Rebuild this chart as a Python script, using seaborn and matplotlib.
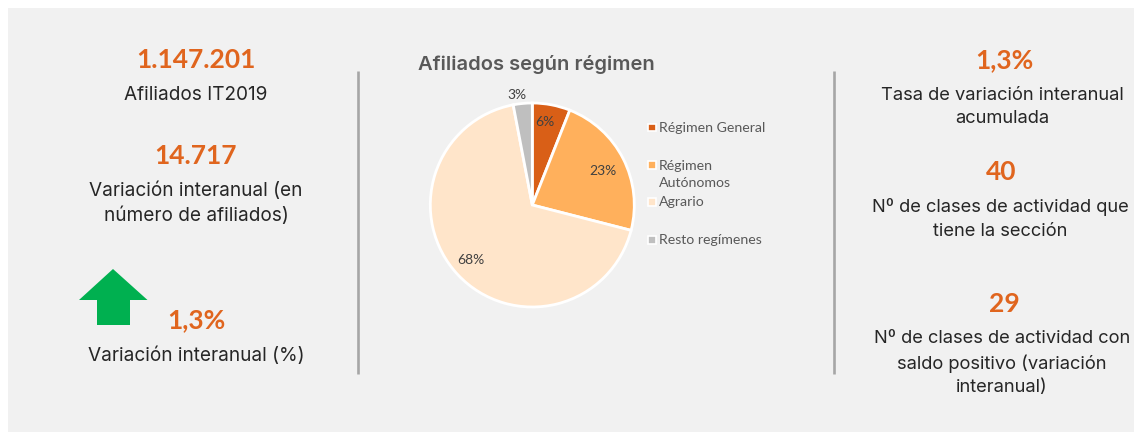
import matplotlib
matplotlib.use("Agg")
import matplotlib.pyplot as plt
from matplotlib.patches import Rectangle, Polygon
import seaborn as sns

# Data
regimes = ["Régimen General", "Régimen\nAutónomos", "Agrario", "Resto regímenes"]
shares = [6, 23, 68, 3]
palette_hex = ["#D95F17", "#FFB05C", "#FFE5CA", "#BFBFBF"]
left_numbers = ["1.147.201", "14.717", "1,3%"]
left_labels = ["Afiliados IT2019", "Variación interanual (en\nnúmero de afiliados)", "Variación interanual (%)"]
right_numbers = ["1,3%", "40", "29"]
right_labels = ["Tasa de variación interanual\nacumulada",
                "Nº de clases de actividad que\ntiene la sección",
                "Nº de clases de actividad con\nsaldo positivo (variación\ninteranual)"]

sns.set_theme(style="white")
colors = sns.color_palette(palette_hex)

W, H = 1134, 432
BG = "#F1F1F1"
NUM = "#E0651E"
TXT = "#262626"
GREY = "#595959"
NUMF = "Lato"
LABF = "Inter"

fig = plt.figure(figsize=(W / 100, H / 100), dpi=100, facecolor="white")
ov = fig.add_axes([0, 0, 1, 1])
ov.set_xlim(0, W)
ov.set_ylim(H, 0)
ov.axis("off")

ov.add_patch(Rectangle((8, 8), W - 8, H - 8, fc=BG, ec="none", zorder=0))
for x in (358, 834):
    ov.plot([x, x], [71, 374], color="#A6A6A6", lw=1.9, solid_capstyle="butt", zorder=1)

# Arrow
ov.add_patch(Polygon([(113, 269), (147.5, 300), (130, 300), (130, 325), (97, 325), (97, 300), (79, 300)],
                     closed=True, fc="#00B050", ec="none", zorder=1))

def num(x, y, s):
    ov.text(x, y, s, ha="center", va="center", family=NUMF, weight="bold", fontsize=19, color=NUM)

def lab(x, y, s, size=13.7, spacing=1.47):
    ov.text(x, y, s, ha="center", va="center", family=LABF, fontsize=size, color=TXT, linespacing=spacing)

for x, y, s in zip((196, 196, 196), (60, 156, 320), left_numbers):
    num(x, y, s)
for x, y, s in zip((196, 196, 196), (94.5, 203, 355.5), left_labels):
    lab(x, y, s)
for x, y, s in zip((1004, 1001, 1004), (60, 172, 304), right_numbers):
    num(x, y, s)
for x, y, s in zip((1002, 1000, 1002), (107, 219, 363), right_labels):
    lab(x, y, s, size=13.2, spacing=1.52)

ov.text(418, 65, "Afiliados según régimen", ha="left", va="center", family=LABF, weight="semibold",
        fontsize=14.5, color=GREY)

# Pie
cx, cy, R = 532.3, 205, 102
ax = fig.add_axes([(cx - R) / W, 1 - (cy + R) / H, 2 * R / W, 2 * R / H])
wedges, _, autotexts = ax.pie(shares, colors=colors, startangle=90, counterclock=False,
                              autopct="%d%%", pctdistance=0.8,
                              wedgeprops=dict(edgecolor="white", linewidth=2),
                              textprops=dict(family="Lato", fontsize=10, color="#404040"))
ax.set_xlim(-1, 1)
ax.set_ylim(-1, 1)
label_offsets = [(0.125, 0.815), (0.69, 0.335), (-0.6, -0.535), (-0.147, 1.08)]
for t, pos in zip(autotexts, label_offsets):
    t.set_position(pos)
    t.set_clip_on(False)
for w in wedges:
    w.set_clip_on(False)

# Legend
for lbl, c, y0, ty in zip(regimes, colors, (127.5, 165, 202, 240), (127.5, 174.5, 202, 240)):
    ov.add_patch(Rectangle((648, y0 - 4), 7.5, 7.5, fc=c, ec="white", lw=1.2, zorder=2))
    ov.text(659, ty, lbl, ha="left", va="center", family="Lato", fontsize=10.2, color=GREY, linespacing=1.45)

fig.savefig("out.png", dpi=100, facecolor=fig.get_facecolor())
